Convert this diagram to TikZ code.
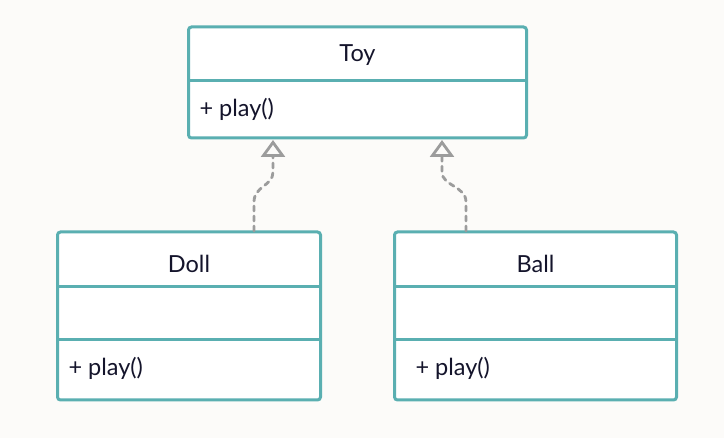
\documentclass[tikz,border=0pt]{standalone}
\usepackage{fontspec}
\setmainfont{Lato}
\usetikzlibrary{arrows.meta}
\definecolor{bg}{HTML}{FCFBF9}
\definecolor{teal}{HTML}{5AAFB1}
\definecolor{ink}{HTML}{14142B}
\definecolor{conn}{HTML}{9C9C9C}
\tikzset{
  x=1pt, y=-1pt,
  umlbox/.style={draw=teal, line width=3pt, fill=white, rounded corners=3pt, inner sep=0pt},
  divider/.style={draw=teal, line width=3pt},
  title/.style={font=\fontsize{23.5}{27}\selectfont, text=ink, anchor=center},
  member/.style={font=\fontsize{23.5}{27}\selectfont, text=ink, anchor=west},
  realize/.style={draw=conn, line width=2.8pt, line cap=round, dash pattern=on 5pt off 5pt,
    -{Triangle[open, length=17pt, width=24pt, line width=2.8pt, line cap=butt]}}
}
\begin{document}
\begin{tikzpicture}
\useasboundingbox[fill=bg] (0,0) rectangle (724,438);
% Toy
\node[umlbox, minimum width=338pt, minimum height=111pt] (toy) at (357.5,82.5) {};
\draw[divider] (toy.west |- 0,81) -- (toy.east |- 0,81);
\node[title] (toyname) at (357.5,55) {Toy};
\node[member] (toyop) at (196,109) {+ play()};
% Doll
\node[umlbox, minimum width=263pt, minimum height=168pt] (doll) at (189,316) {};
\draw[divider] (doll.west |- 0,287) -- (doll.east |- 0,287);
\draw[divider] (doll.west |- 0,340) -- (doll.east |- 0,340);
\node[title] (dollname) at (189,264) {Doll};
\node[member] (dollop) at (65,368) {+ play()};
% Ball
\node[umlbox, minimum width=282pt, minimum height=168pt] (ball) at (535.5,316) {};
\draw[divider] (ball.west |- 0,287) -- (ball.east |- 0,287);
\draw[divider] (ball.west |- 0,340) -- (ball.east |- 0,340);
\node[title] (ballname) at (535.5,264) {Ball};
\node[member] (ballop) at (412,368) {+ play()};
% connectors
\coordinate (d1) at (254,231);
\coordinate (t1) at (273,140);
\coordinate (b1) at (466,231);
\coordinate (t2) at (442,140);
\draw[realize] (d1) -- ++(0,-29) .. controls +(0,-16) and +(0,14) .. (273,172) -- (t1);
\draw[realize] (b1) -- ++(0,-29) .. controls +(0,-16) and +(0,14) .. (442,172) -- (t2);
\end{tikzpicture}
\end{document}
